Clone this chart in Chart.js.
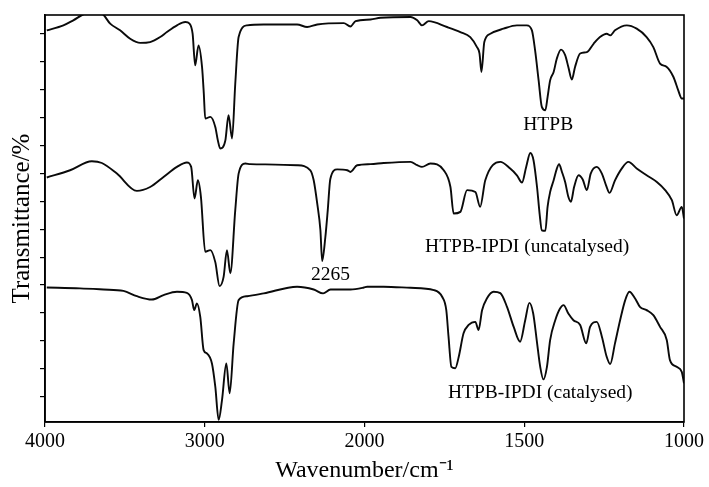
<!DOCTYPE html>
<html>
<head>
<meta charset="utf-8">
<script src="https://cdn.jsdelivr.net/npm/chart.js@4.4.1/dist/chart.umd.min.js"></script>
<style>
  html, body { margin: 0; padding: 0; background: #fff; }
  #wrap { width: 709px; height: 487px; }
</style>
</head>
<body>
<div id="wrap"><canvas id="ftir" width="709" height="487"></canvas></div>
<script>
// x axis is broken at 2000 cm-1 (4000-2000 and 2000-1000 take half the width each)
const xTicks = [4000, 3000, 2000, 1500, 1000];
const yTicks = [0, 1, 2, 3, 4, 5, 6, 7, 8, 9, 10, 11, 12, 13];

// HTPB
const htpbWn = [3989,3885,3823,3749,3699,3644,3592,3530,3467,3404,3342,3279,3237,3174,3122,3095,3076,3060,3039,3017,
  3006,2997,2965,2934,2918,2903,2871,2851,2829,2809,2788,2735,2631,2422,2359,2296,2130,2088,2056,1981,
  1950,1856,1835,1820,1799,1742,1700,1669,1648,1640,1634,1625,1606,1565,1523,1492,1476,1466,1455,1445,
  1434,1427,1419,1408,1398,1385,1372,1362,1351,1341,1325,1304,1283,1263,1242,1231,1216,1179,1148,1117,
  1096,1075,1054,1033,1018,1007,1000];
const htpbT = [13.12,13.30,13.48,13.72,13.76,13.72,13.36,13.12,12.82,12.67,12.70,12.88,13.06,13.30,13.42,13.36,13.00,11.87,12.58,11.81,
  10.87,9.96,10.02,9.66,9.18,8.89,9.18,10.08,9.25,11.21,12.88,13.30,13.33,13.33,13.24,13.33,13.38,13.26,13.45,13.51,
  13.57,13.60,13.48,13.30,13.45,13.24,13.06,12.88,12.52,12.29,11.63,12.70,13.00,13.18,13.30,13.30,13.12,12.40,11.33,10.38,
  10.26,10.73,11.33,11.63,12.11,12.43,12.23,11.81,11.36,11.81,12.29,12.34,12.64,12.88,13.00,12.94,13.12,13.30,13.18,12.88,
  12.52,11.93,11.81,11.45,10.97,10.68,10.68];

// HTPB-IPDI (uncatalysed)
const uncatWn = [3989,3843,3707,3644,3550,3425,3342,3258,3174,3112,3085,3064,3043,3024,2997,2965,2934,2907,2882,2861,
  2840,2809,2788,2746,2715,2422,2339,2318,2296,2276,2265,2245,2230,2214,2171,2108,2088,2046,1981,1940,
  1856,1835,1820,1794,1752,1731,1721,1700,1679,1653,1638,1622,1575,1544,1523,1507,1494,1481,1471,1460,
  1452,1445,1434,1427,1419,1408,1398,1391,1382,1372,1362,1354,1344,1330,1317,1304,1292,1273,1257,1244,
  1233,1216,1195,1174,1148,1117,1085,1059,1038,1023,1007,1000];
const uncatT = [7.85,8.11,8.43,8.37,7.99,7.37,7.51,7.87,8.23,8.39,8.23,7.10,7.75,7.16,5.19,5.25,4.82,3.96,4.29,5.25,
  4.42,6.68,7.99,8.35,8.33,8.29,8.11,7.75,6.92,5.96,4.86,5.72,6.68,7.80,8.14,8.11,8.05,8.29,8.33,8.37,
  8.41,8.29,8.23,8.35,8.11,7.51,6.56,6.62,7.40,7.33,6.80,7.75,8.41,8.17,7.93,7.67,8.23,8.73,8.47,7.51,
  6.56,5.96,5.94,6.80,7.33,7.75,8.17,8.33,8.05,7.69,7.16,6.98,7.51,7.93,7.78,7.40,7.99,8.23,7.99,7.57,
  7.30,7.75,8.17,8.41,8.17,7.93,7.69,7.40,7.04,6.50,6.80,6.38];

// HTPB-IPDI (catalysed)
const catWn = [3989,3781,3634,3509,3425,3331,3258,3174,3112,3080,3066,3049,3028,3007,2986,2955,2934,2913,2892,2865,
  2844,2819,2788,2735,2631,2422,2318,2259,2213,2088,2004,1992,1940,1856,1783,1757,1744,1737,1728,1716,
  1705,1690,1674,1653,1643,1632,1617,1596,1575,1554,1533,1513,1497,1484,1472,1461,1450,1440,1429,1419,
  1403,1388,1377,1362,1346,1325,1306,1294,1273,1257,1242,1231,1216,1200,1184,1171,1153,1138,1117,1096,
  1075,1054,1044,1023,1007,1000];
const catT = [3.91,3.88,3.84,3.79,3.60,3.48,3.64,3.76,3.72,3.46,3.10,3.34,2.86,1.67,1.55,1.19,0.36,-0.83,-0.12,1.19,
  0.12,1.91,3.46,3.60,3.70,3.94,3.84,3.70,3.84,3.84,3.91,3.94,3.94,3.90,3.82,3.58,3.10,2.15,1.07,1.02,
  1.43,2.27,2.57,2.68,2.39,3.10,3.52,3.76,3.71,3.22,2.50,1.97,2.74,3.36,2.98,2.03,1.07,0.62,1.07,2.03,
  2.74,3.16,3.28,2.98,2.74,2.57,1.91,2.50,2.68,2.15,1.43,1.17,1.91,2.74,3.46,3.76,3.52,3.22,3.10,2.92,
  2.50,2.03,1.31,1.07,0.89,0.48];

// text labels placed in data coordinates
const notes = [
  { text: 'HTPB', wn: 1425, t: 9.72 },
  { text: '2265', wn: 2213, t: 4.35 },
  { text: 'HTPB-IPDI (uncatalysed)', wn: 1491, t: 5.36 },
  { text: 'HTPB-IPDI (catalysed)', wn: 1450, t: 0.13 }
];

const X_MAX = 4000, X_BREAK = 2000, X_MIN = 1000;

class BrokenScale extends Chart.LinearScale {
  buildTicks() {
    return xTicks.map(v => ({ value: v }));
  }
  getPixelForValue(value) {
    let f;
    if (value >= X_BREAK) f = (X_MAX - value) / (X_MAX - X_BREAK) * 0.5;
    else f = 0.5 + (X_BREAK - value) / (X_BREAK - X_MIN) * 0.5;
    return this.left + f * this.width;
  }
  getValueForPixel(pixel) {
    const f = (pixel - this.left) / this.width;
    if (f <= 0.5) return X_MAX - f * 2 * (X_MAX - X_BREAK);
    return X_BREAK - (f - 0.5) * 2 * (X_BREAK - X_MIN);
  }
}
BrokenScale.id = 'broken';
BrokenScale.defaults = Chart.LinearScale.defaults;
Chart.register(BrokenScale);

const serif = '"Liberation Serif", "Times New Roman", serif';
Chart.defaults.font.family = serif;
Chart.defaults.color = '#000';

function pts(wn, t) {
  return wn.map((w, i) => ({ x: w, y: t[i] }));
}

const lineStyle = {
  borderColor: '#0a0a0a',
  borderWidth: 1.9,
  pointRadius: 0,
  fill: false,
  cubicInterpolationMode: 'monotone'
};

const frame = {
  id: 'frame',
  afterDraw(chart) {
    const { ctx, chartArea: a } = chart;
    ctx.save();
    ctx.strokeStyle = '#000';
    ctx.lineWidth = 1.6;
    ctx.strokeRect(a.left, a.top, a.right - a.left, a.bottom - a.top);
    ctx.restore();
  }
};

const notesPlugin = {
  id: 'notes',
  afterDatasetsDraw(chart) {
    const { ctx, scales } = chart;
    ctx.save();
    ctx.font = '19.5px ' + serif;
    ctx.fillStyle = '#000';
    ctx.textAlign = 'center';
    ctx.textBaseline = 'middle';
    notes.forEach(n => {
      ctx.fillText(n.text, scales.x.getPixelForValue(n.wn), scales.y.getPixelForValue(n.t));
    });
    ctx.restore();
  }
};

new Chart(document.getElementById('ftir'), {
  type: 'line',
  data: {
    datasets: [
      Object.assign({ label: 'HTPB', data: pts(htpbWn, htpbT) }, lineStyle),
      Object.assign({ label: 'HTPB-IPDI (uncatalysed)', data: pts(uncatWn, uncatT) }, lineStyle),
      Object.assign({ label: 'HTPB-IPDI (catalysed)', data: pts(catWn, catT) }, lineStyle)
    ]
  },
  options: {
    responsive: false,
    animation: false,
    layout: { padding: { top: 15, right: 25, left: 0, bottom: 0 } },
    plugins: { legend: { display: false }, tooltip: { enabled: false } },
    scales: {
      x: {
        type: 'broken',
        min: X_MIN,
        max: X_MAX,
        afterFit(s) { s.height = 65; },
        grid: { drawOnChartArea: false, drawTicks: true, tickLength: 5, color: '#000', lineWidth: 1.2 },
        border: { display: true, color: '#000', width: 1.6 },
        ticks: { autoSkip: false, maxRotation: 0, padding: 3, font: { size: 20 }, callback: v => String(v) },
        title: { display: true, text: 'Wavenumber/cm\u207B\u00B9', font: { size: 24 }, padding: { top: 0, bottom: 2 } }
      },
      y: {
        min: -0.905,
        max: 13.67,
        afterBuildTicks(s) { s.ticks = yTicks.map(v => ({ value: v })); },
        afterFit(s) { s.width = 45; },
        grid: { drawOnChartArea: false, drawTicks: true, tickLength: 5, color: '#000', lineWidth: 1.2 },
        border: { display: true, color: '#000', width: 1.6 },
        ticks: { callback: () => '' },
        title: { display: true, text: 'Transmittance/%', font: { size: 25 }, padding: { top: 7, bottom: 0 } }
      }
    }
  },
  plugins: [frame, notesPlugin]
});
</script>
</body>
</html>
